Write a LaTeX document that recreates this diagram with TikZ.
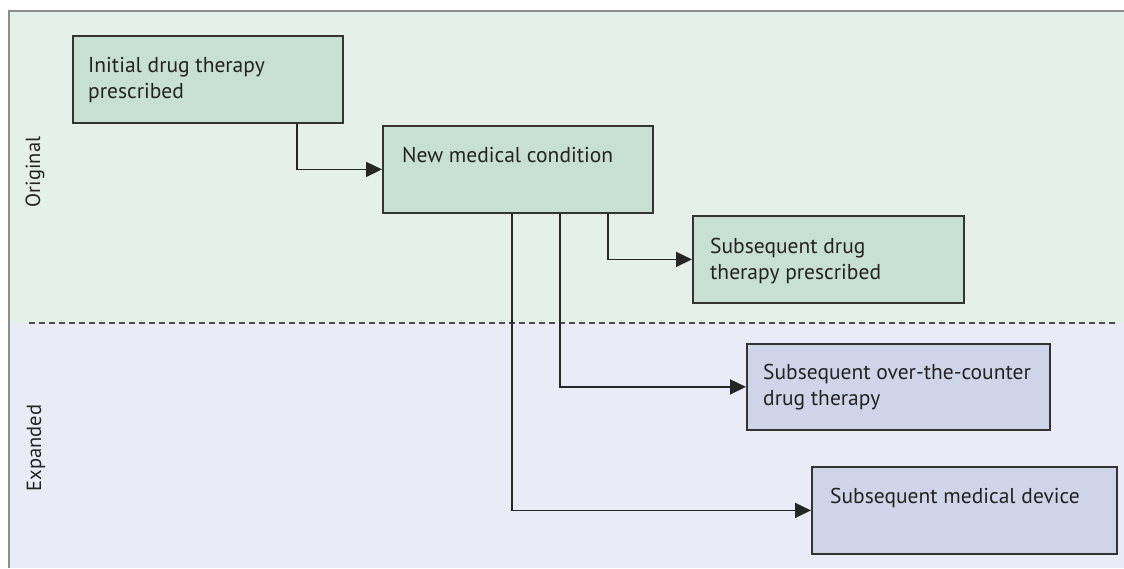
\documentclass[tikz,border=0pt]{standalone}
\usepackage{fontspec}
\setmainfont{PT Sans}
\usetikzlibrary{arrows.meta,calc}
\definecolor{bggreen}{RGB}{230,240,234}
\definecolor{bgpurple}{RGB}{234,235,247}
\definecolor{boxgreen}{RGB}{200,223,211}
\definecolor{boxpurple}{RGB}{208,212,232}
\definecolor{framegray}{RGB}{140,140,140}
\definecolor{txtgray}{RGB}{35,35,35}
\begin{document}
\begin{tikzpicture}[x=1pt,y=-1pt,
  stepbox/.style={draw=black!80,line width=1.8pt,rectangle,inner sep=0pt,anchor=north west},
  gbox/.style={stepbox,fill=boxgreen},
  pbox/.style={stepbox,fill=boxpurple},
  lbl/.style={anchor=base west,inner sep=0pt,align=left,text=txtgray,font=\fontsize{21.5}{26}\selectfont},
  side/.style={rotate=90,inner sep=0pt,text=txtgray,font=\fontsize{20.5}{24}\selectfont},
  conn/.style={draw=black!85,line width=1.6pt,-{Triangle[length=16pt,width=15pt]}}
]
\useasboundingbox (0,0) rectangle (1124,568);
% backgrounds
\fill[white] (0,0) rectangle (1124,568);
\fill[bggreen] (9,11) rectangle (1124,323);
\fill[bgpurple] (9,323) rectangle (1124,568);
\draw[framegray,line width=1.6pt] (9,568) -- (9,11) -- (1124,11);
\draw[black!70,line width=1.4pt,dash pattern=on 6pt off 4pt] (29,323) -- (1118,323);
% side labels
\node[side] (orig) at (35,172) {Original};
\node[side] (exp) at (36,448) {Expanded};
% boxes
\node[gbox,minimum width=270pt,minimum height=87pt] (b1) at (72,35) {};
\node[gbox,minimum width=270pt,minimum height=87pt] (b2) at (382,125) {};
\node[gbox,minimum width=271pt,minimum height=87pt] (b3) at (692,215) {};
\node[pbox,minimum width=303pt,minimum height=86pt] (b4) at (746,343) {};
\node[pbox,minimum width=305pt,minimum height=87pt] (b5) at (811,466) {};
% texts (base anchor = last line)
\node[lbl] (t1) at ($(b1.north west)+(16,63)$) {Initial drug therapy\\prescribed};
\node[lbl] (t2) at ($(b2.north west)+(20,37)$) {New medical condition};
\node[lbl] (t3) at ($(b3.north west)+(18,64)$) {Subsequent drug\\therapy prescribed};
\node[lbl] (t4) at ($(b4.north west)+(17,62)$) {Subsequent over-the-counter\\drug therapy};
\node[lbl] (t5) at ($(b5.north west)+(19,37)$) {Subsequent medical device};
% connectors
\coordinate (c1) at (297,0);
\coordinate (c2) at (608,0);
\coordinate (c3) at (560,0);
\coordinate (c4) at (512,0);
\draw[conn] (c1 |- b1.south) |- (b2.west);
\draw[conn] (c2 |- b2.south) |- (b3.west);
\draw[conn] (c3 |- b2.south) |- (b4.west);
\draw[conn] (c4 |- b2.south) |- (b5.west);
\end{tikzpicture}
\end{document}
